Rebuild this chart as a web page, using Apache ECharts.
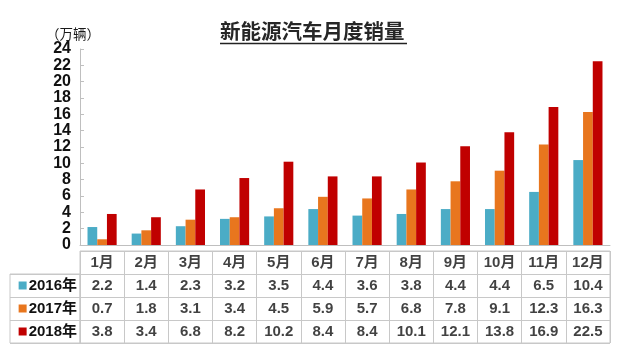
<!DOCTYPE html>
<html>
<head>
<meta charset="utf-8">
<style>
html,body{margin:0;padding:0;background:#fff;}
#c{width:630px;height:354px;}
</style>
<script src="https://cdn.jsdelivr.net/npm/echarts@6/dist/echarts.min.js"></script>
</head>
<body>
<div id="c"></div>
<script>
const months = ['1月','2月','3月','4月','5月','6月','7月','8月','9月','10月','11月','12月'];
const years = ['2016年','2017年','2018年'];
const sales2016 = [2.2,1.4,2.3,3.2,3.5,4.4,3.6,3.8,4.4,4.4,6.5,10.4];
const sales2017 = [0.7,1.8,3.1,3.4,4.5,5.9,5.7,6.8,7.8,9.1,12.3,16.3];
const sales2018 = [3.8,3.4,6.8,8.2,10.2,8.4,8.4,10.1,12.1,13.8,16.9,22.5];
const yMin = 0, yMax = 24, yStep = 2;

const colors = ['#4BACC6','#E8761E','#C00000'];
const allSales = [sales2016, sales2017, sales2018];
const FONT = 'Arial, "Liberation Sans", "Noto Sans CJK SC", sans-serif';
const lineColor = '#c8c8c8';

const chart = echarts.init(document.getElementById('c'), null, {renderer:'canvas'});

const tableRows = [''].concat(years);
const cellData = [];
allSales.forEach((arr, r) => arr.forEach((v, i) => cellData.push([i, r + 1, v])));
const headerData = months.map((m, i) => ({name: m, value: [i, 0]}));

const textStyleCell = {fontFamily: FONT, fontWeight: 'bold', fontSize: 15, color: '#111'};

chart.setOption({
  animation: false,
  backgroundColor: '#fff',
  title: {
    text: '新能源汽车月度销量',
    left: 220, top: 21, padding: 0,
    textStyle: {fontFamily: '"Noto Sans CJK SC", sans-serif', fontSize: 20.5, fontWeight: 'bold', color: '#262626'}
  },
  graphic: [{
    type: 'line', shape: {x1: 220, y1: 43.5, x2: 407, y2: 43.5},
    style: {stroke: '#222', lineWidth: 1.6}, silent: true
  }],
  grid: [
    {left: 80, right: 20, top: 49, bottom: 109},
    {left: 80, right: 20, top: 251, bottom: 11, show: true, borderColor: lineColor, borderWidth: 1},
    {left: 10, right: 550, top: 274, bottom: 11, show: true, borderColor: lineColor, borderWidth: 1}
  ],
  xAxis: [
    {gridIndex: 0, type: 'category', data: months,
     axisLine: {lineStyle: {color: '#bfbfbf'}}, axisTick: {show: false}, axisLabel: {show: false}},
    {gridIndex: 1, type: 'category', data: months,
     axisLine: {show: false}, axisTick: {show: false}, axisLabel: {show: false},
     splitLine: {show: true, interval: 0, lineStyle: {color: lineColor}}},
    {gridIndex: 2, type: 'value', show: false}
  ],
  yAxis: [
    {gridIndex: 0, type: 'value', min: yMin, max: yMax, interval: yStep,
     name: '（万辆）', nameLocation: 'end', nameGap: 5,
     nameTextStyle: {fontFamily: '"Noto Sans CJK SC", sans-serif', fontSize: 13.5, color: '#1a1a1a', align: 'center', padding: [0, 14, 0, 0]},
     axisLine: {show: true, lineStyle: {color: '#bfbfbf'}},
     axisTick: {show: true, inside: true, length: 4, lineStyle: {color: '#bfbfbf'}},
     axisLabel: {margin: 9, fontFamily: FONT, fontWeight: 'bold', fontSize: 16, color: '#111'},
     splitLine: {show: false}},
    {gridIndex: 1, type: 'category', data: tableRows, inverse: true,
     axisLine: {show: false}, axisTick: {show: false},
     splitLine: {show: true, interval: 0, lineStyle: {color: lineColor}},
     axisLabel: {margin: 3, interval: 0,
       formatter: (v, idx) => idx === 0 ? '' : '{m' + idx + '|}{t|' + v + '}',
       rich: {
         m1: {width: 8, height: 8, backgroundColor: colors[0]},
         m2: {width: 8, height: 8, backgroundColor: colors[1]},
         m3: {width: 8, height: 8, backgroundColor: colors[2]},
         t: {fontFamily: FONT, fontWeight: 'bold', fontSize: 15, color: '#111', padding: [0, 0, 0, 2]}
       }}},
    {gridIndex: 2, type: 'category', data: years, inverse: true, show: true,
     axisLine: {show: false}, axisTick: {show: false}, axisLabel: {show: false},
     splitLine: {show: true, interval: 0, lineStyle: {color: lineColor}}}
  ],
  series: [
    {name: years[0], type: 'bar', data: sales2016, itemStyle: {color: colors[0]}, barGap: '0%', barCategoryGap: '34%'},
    {name: years[1], type: 'bar', data: sales2017, itemStyle: {color: colors[1]}, barGap: '0%', barCategoryGap: '34%'},
    {name: years[2], type: 'bar', data: sales2018, itemStyle: {color: colors[2]}, barGap: '0%', barCategoryGap: '34%'},
    {type: 'scatter', xAxisIndex: 1, yAxisIndex: 1, symbolSize: 0, silent: true,
     data: cellData,
     label: Object.assign({show: true, position: 'inside', formatter: p => p.value[2].toFixed(1)}, textStyleCell)},
    {type: 'scatter', xAxisIndex: 1, yAxisIndex: 1, symbolSize: 0, silent: true,
     data: headerData,
     label: Object.assign({show: true, position: 'inside', formatter: '{b}'}, textStyleCell)}
  ]
});
</script>
</body>
</html>
